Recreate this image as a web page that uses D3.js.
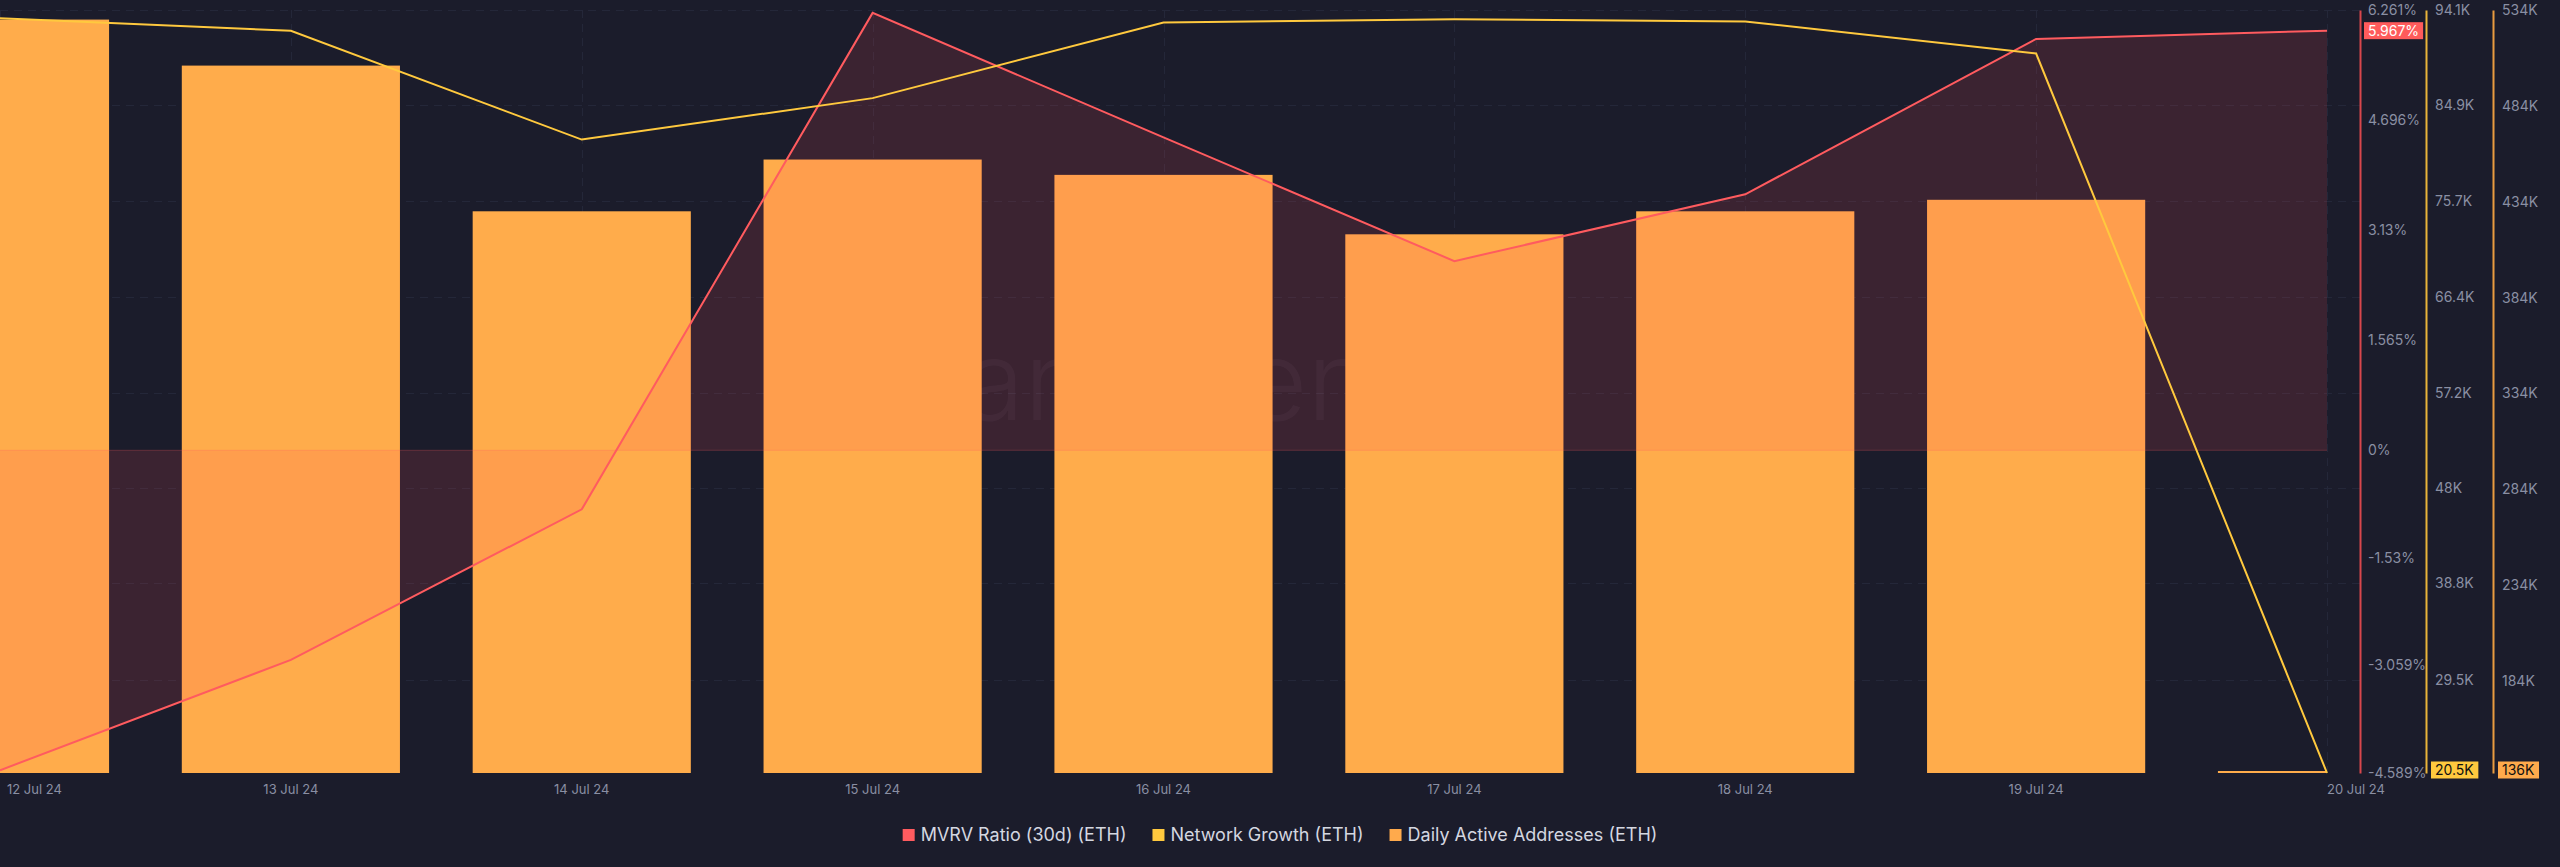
<!DOCTYPE html>
<html>
<head>
<meta charset="utf-8">
<script src="https://cdn.jsdelivr.net/npm/d3@7"></script>
<style>
  html, body { margin: 0; padding: 0; background: #1b1c2b; }
  svg { display: block; }
  text { font-family: Inter, "Noto Sans", sans-serif; }
</style>
</head>
<body>
<svg id="chart" width="2560" height="867"></svg>
<script>
// ---------- data ----------
const dates = ["12 Jul 24", "13 Jul 24", "14 Jul 24", "15 Jul 24", "16 Jul 24", "17 Jul 24", "18 Jul 24", "19 Jul 24", "20 Jul 24"];
const mvrvValues = [-4.55, -2.98, -0.84, 6.22, 4.45, 2.69, 3.64, 5.85, 5.967];            // %
const networkGrowthValues = [93.3, 92.1, 81.6, 85.6, 92.9, 93.2, 93.0, 89.9, 20.5];       // K
const activeAddressValues = [529, 505, 429, 456, 448, 417, 429, 435, 136];                // K

const mvrvTicks = [6.261, 4.696, 3.13, 1.565, 0, -1.53, -3.059, -4.589];
const mvrvTickLabels = ["6.261%", "4.696%", "3.13%", "1.565%", "0%", "-1.53%", "-3.059%", "-4.589%"];
const ngTicks = [94.1, 84.9, 75.7, 66.4, 57.2, 48, 38.8, 29.5];
const ngTickLabels = ["94.1K", "84.9K", "75.7K", "66.4K", "57.2K", "48K", "38.8K", "29.5K"];
const daaTicks = [534, 484, 434, 384, 334, 284, 234, 184];
const daaTickLabels = ["534K", "484K", "434K", "384K", "334K", "284K", "234K", "184K"];

const mvrvLast = "5.967%";
const ngMinLabel = "20.5K";
const daaMinLabel = "136K";

const legendItems = [
  { label: "MVRV Ratio (30d) (ETH)", color: "#ff5b5f" },
  { label: "Network Growth (ETH)", color: "#ffc93e" },
  { label: "Daily Active Addresses (ETH)", color: "#ffaa4c" }
];

// ---------- layout ----------
const W = 2560, H = 867;
const yTop = 10, yBottom = 773;
const plotLeft = 0, plotRight = 2327;
const axisRedX = 2360, axisYelX = 2426, axisOrX = 2493;

const bg = "#1b1c2b";
const gridColor = "#242739";
const labelColor = "#8a8fa3";
const redColor = "#ff5b5f";
const yellowColor = "#ffc93e";
const barColor = "#ffac4b";

const svg = d3.select("#chart");
svg.append("rect").attr("width", W).attr("height", H).attr("fill", bg);

const x = d3.scalePoint().domain(dates).range([plotLeft, plotRight]);
const step = x.step();
const barW = step * 0.75;

const yM = d3.scaleLinear().domain([-4.589, 6.261]).range([yBottom, yTop]);
const yN = d3.scaleLinear().domain([20.5, 94.1]).range([yBottom, yTop]);
const yD = d3.scaleLinear().domain([136, 534]).range([yBottom, yTop]);

const defs = svg.append("defs");
defs.append("clipPath").attr("id", "plotClip")
  .append("rect").attr("x", plotLeft).attr("y", 0).attr("width", plotRight - plotLeft).attr("height", yBottom + 1);

// gridlines
const grid = svg.append("g");
grid.selectAll("line.h").data(ngTicks).join("line")
  .attr("x1", 0).attr("x2", axisRedX)
  .attr("y1", d => Math.round(yN(d)) + 0.5).attr("y2", d => Math.round(yN(d)) + 0.5)
  .attr("stroke", gridColor).attr("stroke-width", 1).attr("stroke-dasharray", "8,6");
grid.selectAll("line.v").data(dates).join("line")
  .attr("x1", d => Math.round(x(d)) + 0.5).attr("x2", d => Math.round(x(d)) + 0.5)
  .attr("y1", yTop).attr("y2", yBottom)
  .attr("stroke", gridColor).attr("stroke-width", 1).attr("stroke-dasharray", "8,6");

// watermark
svg.append("text").attr("x", 1156).attr("y", 420).attr("text-anchor", "middle")
  .attr("font-size", 110).attr("font-weight", 300)
  .attr("fill", "#ffffff").attr("fill-opacity", 0.04).text("santiment");

const plot = svg.append("g").attr("clip-path", "url(#plotClip)");

// bars
plot.selectAll("rect.bar").data(dates).join("rect")
  .attr("x", d => x(d) - barW / 2)
  .attr("width", barW)
  .attr("y", (d, i) => Math.min(yD(activeAddressValues[i]), yBottom - 2))
  .attr("height", (d, i) => Math.max(2, yBottom - yD(activeAddressValues[i])))
  .attr("fill", barColor);

// mvrv area
const area = d3.area()
  .x((d, i) => x(dates[i]))
  .y0(yM(0))
  .y1(d => yM(d));
plot.append("path").datum(mvrvValues)
  .attr("d", area)
  .attr("fill", "rgb(255,80,90)").attr("fill-opacity", 0.14);

// zero line
plot.append("line").attr("x1", plotLeft).attr("x2", plotRight)
  .attr("y1", yM(0)).attr("y2", yM(0))
  .attr("stroke", "rgb(255,90,100)").attr("stroke-opacity", 0.25).attr("stroke-width", 1);

// lines
const lineM = d3.line().x((d, i) => x(dates[i])).y(d => yM(d));
const lineN = d3.line().x((d, i) => x(dates[i])).y(d => yN(d));
svg.append("path").datum(mvrvValues).attr("d", lineM)
  .attr("fill", "none").attr("stroke", redColor).attr("stroke-width", 2);
svg.append("path").datum(networkGrowthValues).attr("d", lineN)
  .attr("fill", "none").attr("stroke", yellowColor).attr("stroke-width", 2);

// x axis labels
const xLabels = svg.append("g");
xLabels.selectAll("text").data(dates).join("text")
  .attr("x", (d, i) => i === 0 ? x(d) + 7 : x(d))
  .attr("y", 794)
  .attr("text-anchor", (d, i) => (i === 0 || i === dates.length - 1) ? "start" : "middle")
  .attr("font-size", 13).attr("fill", labelColor)
  .text(d => d);

// right axes
function styleAxis(g, color) {
  g.select(".domain").attr("stroke", color).attr("stroke-width", 2);
  g.selectAll(".tick line").remove();
  g.selectAll(".tick text").attr("fill", labelColor).attr("font-size", 14)
    .attr("font-family", "Inter, 'Noto Sans', sans-serif");
}
const axM = svg.append("g").attr("transform", `translate(${axisRedX},0)`)
  .call(d3.axisRight(yM).tickValues(mvrvTicks).tickSize(0).tickPadding(8)
    .tickFormat((d, i) => mvrvTickLabels[i]));
styleAxis(axM, "#d8464c");
const axN = svg.append("g").attr("transform", `translate(${axisYelX},0)`)
  .call(d3.axisRight(yN).tickValues(ngTicks).tickSize(0).tickPadding(9)
    .tickFormat((d, i) => ngTickLabels[i]));
styleAxis(axN, "#e9b43a");
const axD = svg.append("g").attr("transform", `translate(${axisOrX},0)`)
  .call(d3.axisRight(yD).tickValues(daaTicks).tickSize(0).tickPadding(9)
    .tickFormat((d, i) => daaTickLabels[i]));
styleAxis(axD, "#e99b40");

// badges
function badge(xPos, yPos, text, fill, textColor) {
  const g = svg.append("g");
  const t = g.append("text").attr("x", xPos + 4).attr("y", yPos).attr("dy", "0.35em")
    .attr("font-size", 14).attr("fill", textColor).text(text);
  const bb = t.node().getBBox();
  g.insert("rect", "text").attr("x", xPos).attr("y", yPos - 8.5)
    .attr("width", bb.width + 8).attr("height", 17).attr("fill", fill);
}
badge(axisRedX + 4, yM(mvrvValues[mvrvValues.length - 1]), mvrvLast, "#ff5b5b", "#ffffff");
badge(axisYelX + 5, yN(20.5) - 3, ngMinLabel, "#ffc93e", "#111111");
badge(axisOrX + 5, yD(136) - 3, daaMinLabel, "#ffaa4c", "#111111");

// legend
const legend = svg.append("g");
let lx = 0;
const items = legend.selectAll("g").data(legendItems).join("g");
items.each(function(d) {
  const g = d3.select(this);
  g.append("rect").attr("x", 0).attr("y", -6).attr("width", 12).attr("height", 12).attr("fill", d.color);
  g.append("text").attr("x", 18).attr("y", 0).attr("dy", "0.35em")
    .attr("font-size", 18).attr("fill", "#d4d7e0").text(d.label);
});
items.each(function() {
  const g = d3.select(this);
  g.attr("transform", `translate(${lx},0)`);
  lx += this.getBBox().width + 26;
});
const totalW = lx - 26;
legend.attr("transform", `translate(${W / 2 - totalW / 2},835)`);
</script>
</body>
</html>
